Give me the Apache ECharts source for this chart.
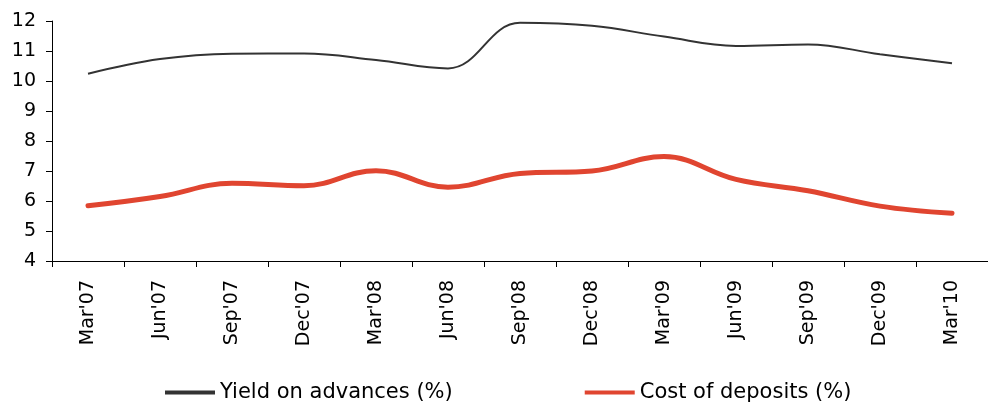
<!DOCTYPE html>
<html>
<head>
<meta charset="utf-8">
<script src="https://cdn.jsdelivr.net/npm/echarts@6/dist/echarts.min.js"></script>
<style>
  html, body { margin: 0; padding: 0; background: #fff; }
  #chart { width: 988px; height: 405px; }
</style>
</head>
<body>
<div id="chart"></div>
<script>
// 季度
const quarters = ["Mar'07", "Jun'07", "Sep'07", "Dec'07", "Mar'08", "Jun'08", "Sep'08",
  "Dec'08", "Mar'09", "Jun'09", "Sep'09", "Dec'09", "Mar'10"]
// 贷款收益率 (%)
const yieldOnAdvances = [10.24, 10.73, 10.91, 10.92, 10.7, 10.42, 11.94, 11.84, 11.48, 11.17, 11.22, 10.89, 10.59]
// 存款成本 (%)
const costOfDeposits = [5.84, 6.15, 6.59, 6.51, 7.01, 6.46, 6.92, 7.0, 7.48, 6.72, 6.34, 5.83, 5.59]

const font = 'DejaVu Sans'

let chart = echarts.init(document.getElementById('chart'), null, { renderer: 'canvas' })

let option = {
  animation: false,
  grid: { left: 52, right: -5, top: 21, bottom: 144 },
  legend: {
    top: 377,
    left: 160,
    itemWidth: 50,
    itemHeight: 4,
    itemGap: 132,
    icon: 'rect',
    textStyle: { fontFamily: font, fontSize: 21, color: '#000' },
    data: [
      { name: 'Yield on advances (%)', itemStyle: { color: '#333' } },
      { name: 'Cost of deposits (%)', itemStyle: { color: '#e04530' } }
    ]
  },
  xAxis: {
    type: 'category',
    data: quarters,
    boundaryGap: true,
    axisLine: { lineStyle: { color: '#000', width: 1 } },
    axisTick: { show: true, length: 6, lineStyle: { color: '#000' } },
    axisLabel: { rotate: 90, margin: 19, fontFamily: font, fontSize: 19, color: '#000' }
  },
  yAxis: {
    type: 'value',
    min: 4,
    max: 12,
    interval: 1,
    splitLine: { show: false },
    axisLine: { show: true, lineStyle: { color: '#000', width: 1 } },
    axisTick: { show: true, length: 6, lineStyle: { color: '#000' } },
    axisLabel: { margin: 16, fontFamily: font, fontSize: 19, color: '#000' }
  },
  series: [
    {
      name: 'Yield on advances (%)',
      type: 'line',
      data: yieldOnAdvances,
      smooth: 0.4,
      showSymbol: false,
      lineStyle: { color: '#333', width: 2 },
      itemStyle: { color: '#333' }
    },
    {
      name: 'Cost of deposits (%)',
      type: 'line',
      data: costOfDeposits,
      smooth: 0.4,
      showSymbol: false,
      lineStyle: { color: '#e04530', width: 5, cap: 'round' },
      itemStyle: { color: '#e04530' }
    }
  ]
}

chart.setOption(option)
</script>
</body>
</html>
